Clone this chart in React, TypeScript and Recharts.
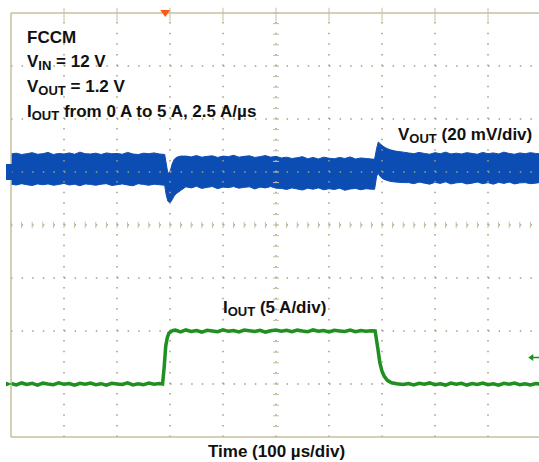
import React from 'react';
import { ComposedChart, Area, Line, XAxis, YAxis, ReferenceLine, ReferenceDot } from 'recharts';

// VOUT (ac coupled, mV) noise envelope
const vTime = [
  0, 10, 20, 30, 40, 50, 60, 70, 80, 90, 100, 110, 120, 130, 140, 150, 160, 170, 180, 190,
  200, 210, 220, 230, 240, 250, 260, 270, 280,
  290, 293, 296, 300, 304, 308, 313, 320,
  330, 340, 350, 360, 370, 380, 390, 400, 410, 420, 430, 440, 450, 460, 470, 480, 490, 500,
  510, 520, 530, 540, 550, 560, 570, 580, 590, 600, 610, 620, 630, 640, 650, 660, 670, 680,
  686, 690, 693, 697, 702, 708, 715, 725, 740,
  750, 760, 770, 780, 790, 800, 810, 820, 830, 840, 850, 860, 870, 880, 890, 900, 910, 920,
  930, 940, 950, 960, 970, 980, 990, 1000,
];
const vHigh = [
  6.8, 7.1, 6.6, 6.9, 7.3, 6.7, 6.9, 7.4, 6.6, 7.0, 6.8, 7.2, 6.7, 7.5, 6.9, 6.8, 7.1, 6.6, 7.2, 6.9,
  7.0, 6.7, 7.4, 6.8, 6.6, 7.1, 6.9, 7.2, 6.8,
  6.6, 3.0, -0.5, 0.0, 3.0, 4.8, 5.6, 6.0,
  6.0, 5.7, 6.2, 5.6, 5.9, 6.1, 5.5, 6.0, 5.8, 6.3, 5.6, 5.9, 6.1, 5.5, 5.8, 6.2, 5.6, 5.9,
  5.3, 5.6, 5.1, 5.4, 5.8, 5.0, 5.5, 4.9, 5.6, 5.2, 5.0, 5.5, 5.1, 5.7, 4.9, 5.3, 5.1, 4.9,
  4.8, 9.0, 11.3, 10.6, 9.7, 9.0, 8.4, 7.9, 7.5,
  7.2, 6.9, 7.4, 7.0, 6.7, 7.3, 6.9, 7.5, 6.8, 7.1, 6.8, 7.3, 7.0, 6.7, 7.4, 6.9, 7.2, 6.8,
  7.5, 7.0, 6.7, 7.2, 6.9, 7.3, 7.0, 6.8,
];
const vLow = [
  -4.6, -4.9, -4.4, -4.8, -5.1, -4.5, -4.8, -4.5, -5.0, -4.7, -4.3, -4.9, -4.6, -5.2, -4.5, -4.7, -5.0, -4.6, -4.4, -5.1,
  -4.8, -4.5, -4.9, -5.2, -4.4, -4.7, -5.0, -4.6, -4.8,
  -5.0, -8.8, -11.0, -11.7, -10.5, -9.0, -8.0, -7.0,
  -5.6, -6.0, -5.4, -6.2, -5.8, -5.5, -6.3, -5.7, -5.9, -5.5, -6.1, -5.8, -5.6, -6.4, -5.7, -6.0, -5.5, -6.1,
  -6.2, -6.6, -6.0, -6.4, -6.8, -6.1, -6.5, -6.0, -6.7, -6.3, -6.6, -6.1, -6.9, -6.4, -6.2, -6.7, -6.3, -6.5,
  -6.5, -1.5, -0.6, -1.8, -2.6, -3.1, -3.5, -3.8, -4.0,
  -4.0, -4.4, -3.8, -4.2, -4.6, -3.9, -4.3, -3.7, -4.5, -4.1, -3.9, -4.5, -4.2, -3.8, -4.4, -4.0, -4.6, -3.9,
  -4.3, -3.8, -4.5, -4.1, -4.0, -4.4, -4.2, -3.9,
];

// IOUT (A)
const iTime = [
  0, 10, 20, 30, 40, 50, 60, 70, 80, 90, 100, 110, 120, 130, 140, 150, 160, 170, 180, 190,
  200, 210, 220, 230, 240, 250, 260, 270, 280,
  286, 289, 292, 295, 298, 302, 306,
  310, 320, 330, 340, 350, 360, 370, 380, 390, 400, 410, 420, 430, 440, 450, 460, 470, 480, 490,
  500, 510, 520, 530, 540, 550, 560, 570, 580, 590, 600, 610, 620, 630, 640, 650, 660, 670, 680,
  687, 692, 696, 700, 704, 710, 718, 728, 740,
  750, 760, 770, 780, 790, 800, 810, 820, 830, 840, 850, 860, 870, 880, 890, 900, 910, 920,
  930, 940, 950, 960, 970, 980, 990, 1000,
];
const iOut = [
  0.05, -0.08, 0.1, -0.04, 0.06, -0.1, 0.08, 0.0, -0.06, 0.11, -0.03, 0.05, -0.1, 0.07, -0.02, 0.09, -0.07, 0.03, -0.11, 0.06,
  0.0, -0.05, 0.1, -0.08, 0.02, -0.06, 0.08, -0.02, 0.04,
  0.0, 1.6, 3.6, 4.4, 4.8, 4.95, 5.05,
  5.08, 4.92, 5.1, 4.96, 5.04, 4.9, 5.06, 5.0, 4.94, 5.11, 4.97, 5.05, 4.92, 5.09, 5.02, 4.95, 5.07, 4.9, 5.03,
  5.1, 4.97, 5.06, 4.93, 5.08, 5.0, 4.94, 5.1, 4.98, 5.04, 4.91, 5.07, 5.01, 4.96, 5.09, 4.93, 5.05, 4.97, 5.03,
  5.0, 3.4, 2.0, 1.2, 0.75, 0.35, 0.12, 0.02, -0.05,
  0.05, -0.09, 0.07, -0.03, 0.1, -0.06, 0.02, -0.1, 0.08, -0.02, 0.06, -0.1, 0.04, -0.05, 0.09, -0.07, 0.02, -0.11,
  0.06, -0.03, 0.08, -0.06, 0.03, -0.08, 0.05, -0.01,
];

// scope graticule: 10 x 100 us, 8 x 5 A (VOUT 20 mV/div on its own scale)
const majorT = [100, 200, 300, 400, 500, 600, 700, 800, 900];
const majorI = [0, 5, 10, 15, 20, 25, 30];
const minorT = Array.from({ length: 51 }, (_, k) => k * 20);
const minorI = Array.from({ length: 41 }, (_, k) => k - 5);

const TRIGGER_T = 291;
const TRIGGER_LEVEL = 2.5;

const BLUE = '#0b4db3';
const GREEN = '#1f8f1f';
const TAN = '#c6c0a0';
const DOT = '#a29d80';

const vData = vTime.map((t, k) => ({ t, band: [vLow[k], vHigh[k]] }));
const iData = iTime.map((t, k) => ({ t, a: iOut[k] }));

const txt: React.CSSProperties = {
  position: 'absolute',
  fontFamily: '"Liberation Sans", Arial, sans-serif',
  fontWeight: 700,
  fontSize: 17,
  lineHeight: '17px',
  color: '#111',
  whiteSpace: 'nowrap',
};

const Sub = ({ children }: { children: React.ReactNode }) => (
  <span style={{ fontSize: 13, position: 'relative', top: 3 }}>{children}</span>
);

export default function App() {
  return (
    <div style={{ position: 'absolute', left: 0, top: 0, width: 539, height: 462, overflow: 'hidden', background: '#fff' }}>
      <ComposedChart width={542} height={462} margin={{ top: 13, right: 1, bottom: 25, left: 11 }}>
        <XAxis xAxisId="b" dataKey="t" type="number" domain={[0, 1000]} ticks={minorT} orientation="bottom"
          mirror tick={false} tickSize={5} axisLine={{ stroke: TAN, strokeWidth: 1.5 }} tickLine={{ stroke: TAN }} allowDataOverflow />
        <XAxis xAxisId="t" dataKey="t" type="number" domain={[0, 1000]} ticks={minorT} orientation="top"
          mirror tick={false} tickSize={5} axisLine={{ stroke: TAN, strokeWidth: 1.5 }} tickLine={{ stroke: TAN }} allowDataOverflow />
        <YAxis yAxisId="i" type="number" domain={[-5, 35]} ticks={minorI} orientation="left"
          mirror tick={false} tickSize={5} axisLine={{ stroke: TAN, strokeWidth: 1.5 }} tickLine={{ stroke: TAN }} allowDataOverflow />
        <YAxis yAxisId="v" type="number" domain={[-100, 60]} hide allowDataOverflow />

        {majorT.map((t) => (
          <ReferenceLine key={`gx${t}`} xAxisId="b" yAxisId="i" x={t} stroke={DOT} strokeWidth={1.5} strokeDasharray="1.5 9.1" />
        ))}
        {majorI.map((a) => (
          <ReferenceLine key={`gy${a}`} xAxisId="b" yAxisId="i" y={a} stroke={DOT} strokeWidth={1.5} strokeDasharray="1.5 9.1" />
        ))}
        {minorT.map((t) => (
          <ReferenceLine key={`cx${t}`} xAxisId="b" yAxisId="i" stroke={TAN} ifOverflow="visible"
            segment={[{ x: t, y: 14.7 }, { x: t, y: 15.3 }]} />
        ))}
        {minorI.map((a) => (
          <ReferenceLine key={`cy${a}`} xAxisId="b" yAxisId="i" stroke={TAN} ifOverflow="visible"
            segment={[{ x: 494.3, y: a }, { x: 505.7, y: a }]} />
        ))}
        {majorT.map((t) => (
          <ReferenceLine key={`mt${t}`} xAxisId="b" yAxisId="i" stroke={TAN} ifOverflow="visible"
            segment={[{ x: t, y: 35.5 }, { x: t, y: 34.2 }]} />
        ))}

        <Area xAxisId="b" yAxisId="v" data={vData} dataKey="band" type="linear" stroke={BLUE} strokeWidth={1}
          fill={BLUE} fillOpacity={1} isAnimationActive={false} dot={false} activeDot={false} />
        <Line xAxisId="b" yAxisId="i" data={iData} dataKey="a" type="linear" stroke={GREEN} strokeWidth={3.5}
          dot={false} activeDot={false} isAnimationActive={false} />

        <ReferenceDot xAxisId="b" yAxisId="i" x={TRIGGER_T} y={35} ifOverflow="visible"
          shape={(p: any) => <path d={`M${p.cx - 5},${p.cy - 3} L${p.cx + 5},${p.cy - 3} L${p.cx},${p.cy + 4} Z`} fill="#ff5a14" />} />
        <ReferenceDot xAxisId="b" yAxisId="v" x={0} y={0} ifOverflow="visible"
          shape={(p: any) => <path d={`M${p.cx - 5},${p.cy - 8} L${p.cx + 1},${p.cy - 8} L${p.cx + 1},${p.cy + 8} L${p.cx - 5},${p.cy + 8} Z`} fill={BLUE} />} />
        <ReferenceDot xAxisId="b" yAxisId="i" x={0} y={0} ifOverflow="visible"
          shape={(p: any) => <path d={`M${p.cx - 5},${p.cy - 2.5} L${p.cx + 1},${p.cy} L${p.cx - 5},${p.cy + 2.5} Z`} fill={GREEN} />} />
        <ReferenceDot xAxisId="b" yAxisId="i" x={976} y={TRIGGER_LEVEL} ifOverflow="visible"
          shape={(p: any) => (
            <g>
              <path d={`M${p.cx},${p.cy} L${p.cx + 5},${p.cy - 3.5} L${p.cx + 5},${p.cy + 3.5} Z`} fill={GREEN} />
              <line x1={p.cx + 4} y1={p.cy} x2={p.cx + 14} y2={p.cy} stroke={GREEN} strokeWidth={1.5} />
            </g>
          )} />
      </ComposedChart>

      <div style={{ ...txt, left: 27, top: 29 }}>FCCM</div>
      <div style={{ ...txt, left: 27, top: 53 }}>V<Sub>IN</Sub> = 12 V</div>
      <div style={{ ...txt, left: 27, top: 78 }}>V<Sub>OUT</Sub> = 1.2 V</div>
      <div style={{ ...txt, left: 27, top: 103 }}>I<Sub>OUT</Sub> from 0 A to 5 A, 2.5 A/µs</div>
      <div style={{ ...txt, left: 398, top: 126 }}>V<Sub>OUT</Sub> (20 mV/div)</div>
      <div style={{ ...txt, left: 223, top: 299 }}>I<Sub>OUT</Sub> (5 A/div)</div>
      <div style={{ ...txt, left: 208, top: 443 }}>Time (100 µs/div)</div>
    </div>
  );
}
